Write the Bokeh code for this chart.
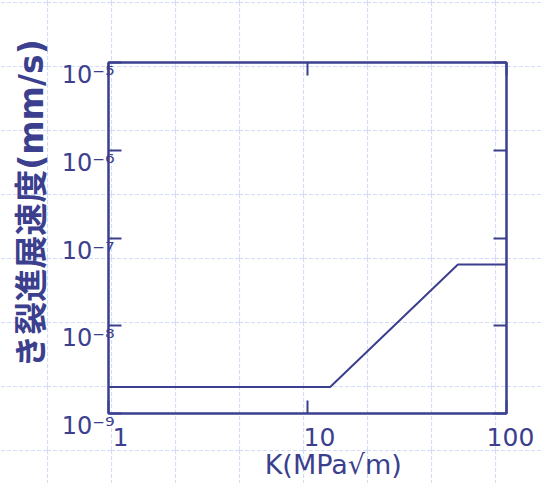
from urllib.parse import quote
from bokeh.plotting import figure
from bokeh.models import Range1d, LogAxis, FixedTicker, CustomJSTickFormatter
from bokeh.embed import file_html
from bokeh.resources import INLINE

# ---- data ----
k_values = [1, 13, 57, 100]
rate_values = [2.0e-9, 2.0e-9, 5.0e-8, 5.0e-8]

x_ticks = [1, 10, 100]
x_tick_labels = ["1", "10", "100"]
y_ticks = [1e-9, 1e-8, 1e-7, 1e-6, 1e-5]
y_tick_labels = ["10⁻⁹", "10⁻⁸", "10⁻⁷", "10⁻⁶", "10⁻⁵"]

x_label = "K(MPa√m)"
y_label = "き裂進展速度(mm/s)"

NAVY = "#3b3f8e"
GRIDC = "#d3dcf6"

p = figure(width=543, height=483, x_axis_type="log", y_axis_type="log",
           x_range=Range1d(1, 100), y_range=Range1d(1e-9, 1e-5),
           output_backend="svg", toolbar_location=None,
           min_border_left=108, min_border_right=37,
           min_border_top=62, min_border_bottom=70,
           background_fill_color=None, border_fill_color=None)
p.grid.visible = False
p.outline_line_color = NAVY
p.outline_line_width = 2

# graph-paper background behind the whole chart
tile = ("<svg xmlns='http://www.w3.org/2000/svg' width='64' height='64'>"
        f"<g stroke='{GRIDC}' stroke-width='1.2' stroke-dasharray='4 2' fill='none'>"
        "<line x1='0.5' y1='0' x2='0.5' y2='64'/>"
        "<line x1='0' y1='0.5' x2='64' y2='0.5'/></g></svg>")
p.styles = {"background-image": f"url(\"data:image/svg+xml;charset=utf-8,{quote(tile)}\")",
            "background-position": "47px 2px",
            "background-repeat": "repeat"}

fmt_code = """
const e = Math.round(Math.log10(tick));
for (let i = 0; i < tvals.length; i++) {
  if (Math.round(Math.log10(tvals[i])) === e) return pre + '\\u00a0'.repeat(pad[i]) + labs[i];
}
return '';
"""
xfmt = CustomJSTickFormatter(args=dict(tvals=x_ticks, labs=x_tick_labels, pad=[3, 3, 1], pre=""),
                             code=fmt_code)
yfmt = CustomJSTickFormatter(args=dict(tvals=y_ticks, labs=y_tick_labels, pad=[0] * 5, pre="\n"),
                             code=fmt_code)
blank = CustomJSTickFormatter(code="return '';")

def style_axis(ax):
    ax.axis_line_color = NAVY
    ax.axis_line_width = 2
    ax.major_tick_line_color = NAVY
    ax.major_tick_line_width = 2
    ax.major_tick_in = 13
    ax.major_tick_out = 0
    ax.minor_tick_line_color = None
    ax.major_label_text_color = NAVY
    ax.major_label_text_font = "DejaVu Sans"

xa = p.xaxis[0]
xa.ticker = FixedTicker(ticks=x_ticks, minor_ticks=[])
xa.formatter = xfmt
style_axis(xa)
xa.major_label_text_font_size = "25px"
xa.major_label_standoff = 9
xa.axis_label = "\u00a0" * 6 + x_label
xa.axis_label_text_font = "DejaVu Sans"
xa.axis_label_text_font_size = "27px"
xa.axis_label_text_font_style = "normal"
xa.axis_label_text_color = NAVY
xa.axis_label_standoff = -6

ya = p.yaxis[0]
ya.ticker = FixedTicker(ticks=y_ticks, minor_ticks=[])
ya.formatter = yfmt
style_axis(ya)
ya.major_label_text_font_size = "24px"
ya.major_label_text_line_height = 0.9
ya.major_label_standoff = -6
ya.axis_label = "\u00a0" * 6 + y_label
ya.axis_label_text_font = "'DejaVu Sans', 'Noto Sans CJK JP'"
ya.axis_label_text_font_size = "33px"
ya.axis_label_text_font_style = "bold"
ya.axis_label_text_color = NAVY
ya.axis_label_standoff = 8

top = LogAxis(ticker=FixedTicker(ticks=x_ticks, minor_ticks=[]), formatter=blank)
style_axis(top)
top.major_label_text_font_size = "10px"
p.add_layout(top, "above")

right = LogAxis(ticker=FixedTicker(ticks=y_ticks, minor_ticks=[]), formatter=blank)
style_axis(right)
right.major_label_text_font_size = "10px"
p.add_layout(right, "right")

p.line(k_values, rate_values, line_color=NAVY, line_width=2)

open("out.html", "w").write(file_html(p, INLINE))
